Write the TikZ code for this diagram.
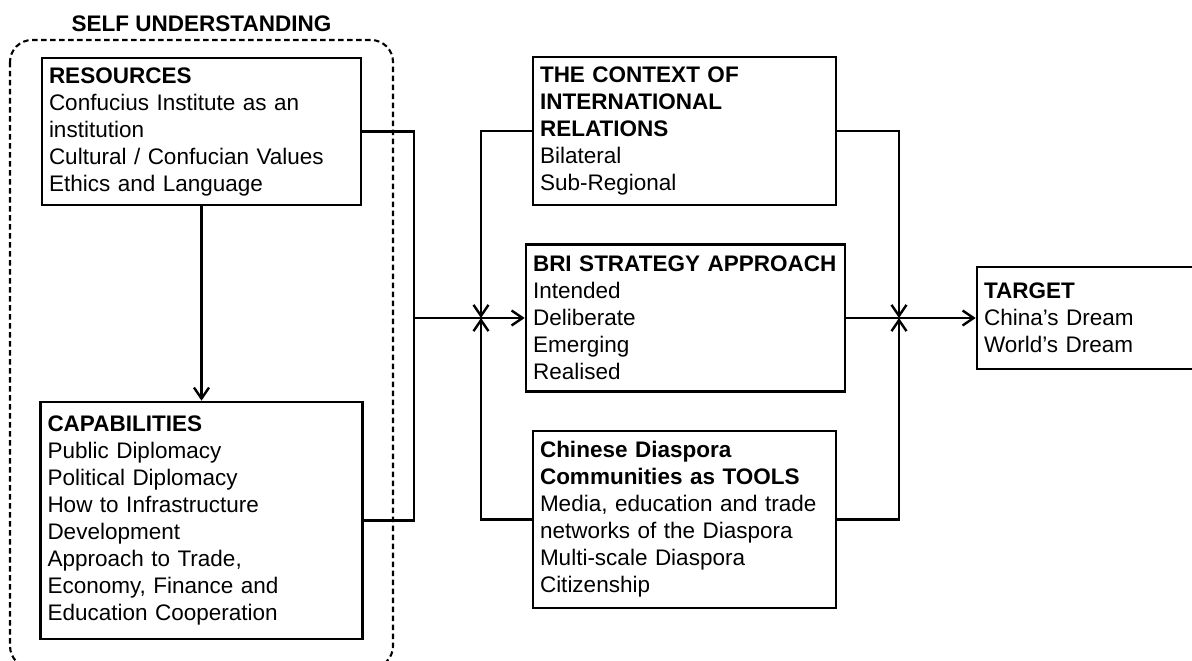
\documentclass[tikz,border=0pt]{standalone}
\usepackage{fontspec}
\setmainfont{Liberation Sans}
\usetikzlibrary{arrows.meta}

\begin{document}
\begin{tikzpicture}[x=1pt, y=-1pt, font=\fontsize{22.5}{27}\selectfont,
	box/.style = {draw, line width=2.6pt, align=left, inner xsep=7pt, inner ysep=0pt},
	title/.style = {font=\fontsize{22.5}{27}\selectfont\bfseries},
	conn/.style = {line width=2.4pt},
	arr/.style = {conn, -{Straight Barb[length=11pt,width=15pt]}}]
		\useasboundingbox (0,0) rectangle (1192,661);
		\draw[line width=2.1pt, dash pattern=on 5.5pt off 3.5pt, rounded corners=22pt] (10,40) rectangle (393,668);
		\node[title] (self) at (201.5,24) {SELF UNDERSTANDING};
		\node[box, text width=305pt, minimum height=147pt] (res) at (201.5,131.5) {\textbf{RESOURCES}\\Confucius Institute as an\\institution\\Cultural / Confucian Values\\Ethics and Language};
		\node[box, text width=308pt, minimum height=237pt] (cap) at (201.5,520.5) {\textbf{CAPABILITIES}\\Public Diplomacy\\Political Diplomacy\\How to Infrastructure\\Development\\Approach to Trade,\\Economy, Finance and\\Education Cooperation};
		\node[box, text width=289pt, minimum height=148pt] (ctx) at (684.5,131) {\textbf{THE CONTEXT OF}\\\textbf{INTERNATIONAL}\\\textbf{RELATIONS}\\Bilateral\\Sub-Regional};
		\node[box, text width=305pt, minimum height=147pt] (bri) at (685.5,318) {\textbf{BRI STRATEGY APPROACH}\\Intended\\Deliberate\\Emerging\\Realised};
		\node[box, text width=289pt, minimum height=177pt] (chn) at (684.5,519.5) {\textbf{Chinese Diaspora}\\\textbf{Communities as TOOLS}\\Media, education and trade\\networks of the Diaspora\\Multi-scale Diaspora\\Citizenship};
		\node[box, text width=216pt, minimum height=102pt] (tgt) at (1092,318) {\textbf{TARGET}\\China’s Dream\\World’s Dream};
		\coordinate (lbus) at (414,318);
		\coordinate (ljn) at (481,318);
		\coordinate (rjn) at (899,318);
		\draw[arr] (res.south) -- (cap.north);
		\draw[conn] (res.east) -| (lbus);
		\draw[conn] (cap.east) -| (lbus);
		\draw[arr] (lbus) -- (bri.west);
		\draw[arr] (ctx.west) -| (ljn);
		\draw[arr] (chn.west) -| (ljn);
		\draw[arr] (ctx.east) -| (rjn);
		\draw[arr] (chn.east) -| (rjn);
		\draw[arr] (bri.east) -- (tgt.west);
	\end{tikzpicture}
\end{document}
